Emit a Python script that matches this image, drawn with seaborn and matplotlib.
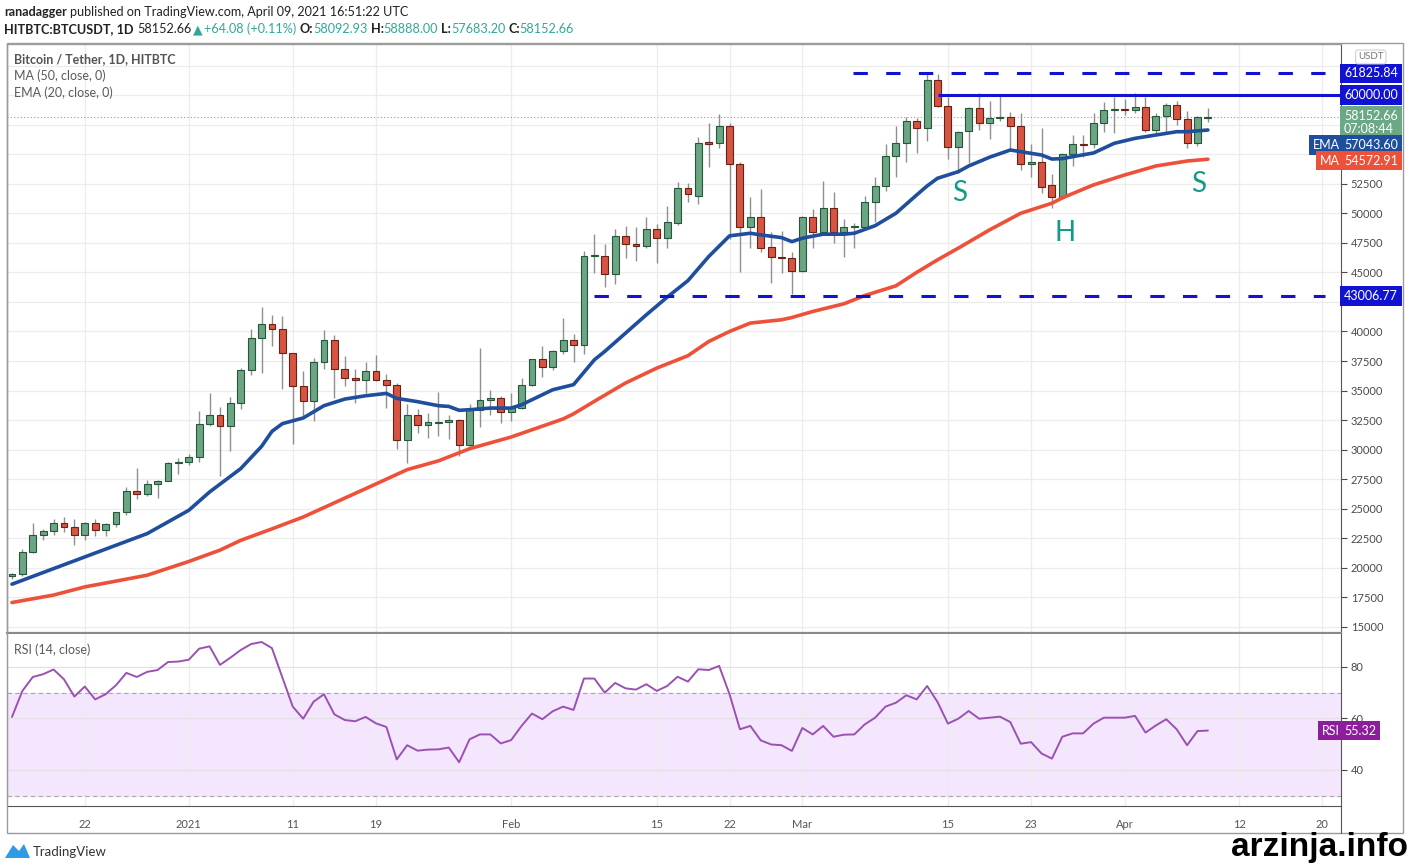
import numpy as np
import pandas as pd
import matplotlib
matplotlib.use("Agg")
import matplotlib.pyplot as plt
import seaborn as sns
from matplotlib.transforms import blended_transform_factory
from matplotlib.patches import Rectangle, Polygon
from matplotlib.lines import Line2D

# ---------------- data ----------------
start = pd.Timestamp("2020-12-15")
dates = pd.date_range(start, periods=116, freq="D")
days = np.arange(len(dates))

opens = [19270, 19440, 21370, 22820, 23120, 23830, 23480, 22740, 23820, 23230,
         23730, 24710, 26490, 26260, 27060, 27390, 28880, 28960, 29380, 32200,
         32960, 32000, 33960, 36780, 39430, 40620, 40240, 38220, 35410, 34110,
         37420, 39270, 36830, 36070, 35900, 36690, 35920, 35470, 30850, 32960,
         32120, 32280, 32370, 32480, 30400, 33380, 34230, 34370, 33150, 33520,
         35500, 37670, 36990, 38370, 39300, 38820, 46400, 46420, 44850, 48090,
         47380, 47240, 48650, 47940, 49160, 52120, 51490, 56000, 55920, 57400,
         54140, 48870, 49720, 47160, 46340, 46200, 45150, 49670, 48450, 50430,
         48400, 48830, 48870, 50980, 52340, 54870, 55920, 57800, 57210, 61270,
         59070, 55630, 56990, 58870, 57610, 58030, 58140, 57380, 54140, 54360,
         52370, 51350, 55050, 55840, 55840, 57660, 58730, 58740, 58730, 58960,
         57040, 58220, 59150, 57970, 55970, 58093]
highs = [19570, 21560, 23800, 23280, 24170, 24280, 24100, 23850, 24100, 23790,
         24760, 26870, 28420, 27470, 27420, 28990, 29300, 29620, 33300, 34790,
         33650, 34480, 36900, 40200, 42060, 41380, 41350, 38220, 36620, 37750,
         40150, 39700, 37950, 36850, 37400, 37980, 36400, 35600, 33830, 33450,
         33070, 34850, 32960, 32560, 33900, 38600, 35070, 34500, 34790, 36060,
         37700, 38730, 38400, 41130, 39800, 46840, 48250, 47410, 48700, 48950,
         48880, 49720, 49070, 50620, 52670, 52590, 56420, 57660, 58390, 57600,
         54300, 51400, 52050, 48450, 48530, 46760, 49800, 50340, 52760, 51830,
         49490, 49160, 51490, 53100, 55900, 57400, 58170, 58050, 61830, 61770,
         59860, 56950, 58950, 60140, 59520, 59910, 58590, 58450, 55860, 57180,
         53320, 55100, 56620, 56620, 58450, 59430, 59860, 59700, 60140, 59860,
         58450, 59300, 59520, 58670, 58200, 58888]
lows = [19050, 19300, 21230, 22350, 22770, 23070, 21900, 22350, 22700, 22700,
        23450, 24500, 25860, 26090, 25880, 27320, 27900, 28700, 28950, 32000,
        27750, 29900, 33420, 36320, 36500, 38740, 35110, 30500, 32880, 32400,
        36800, 34390, 35400, 33970, 34800, 35800, 33550, 30080, 28850, 31400,
        30990, 31130, 30900, 29500, 30020, 31930, 32960, 32260, 32390, 33450,
        35350, 36190, 36700, 38090, 37400, 38100, 44980, 43750, 44030, 46200,
        46000, 47050, 45780, 47050, 49010, 50980, 50760, 53940, 55490, 47800,
        45020, 47050, 46760, 44140, 44930, 43160, 45000, 47050, 48170, 47470,
        46340, 47050, 48700, 49300, 51900, 53050, 54300, 55070, 56140, 58950,
        54570, 53390, 54230, 57040, 56260, 57800, 55350, 53660, 53050, 51740,
        50480, 51200, 54000, 54790, 55500, 56900, 56820, 58300, 58450, 56900,
        56810, 56800, 57460, 55500, 55690, 57683]
closes = [19440, 21370, 22820, 23120, 23830, 23480, 22740, 23820, 23230, 23730,
          24710, 26490, 26260, 27060, 27390, 28880, 28960, 29380, 32200, 32960,
          32000, 33960, 36780, 39430, 40620, 40240, 38220, 35410, 34110, 37420,
          39270, 36830, 36070, 35900, 36690, 35920, 35470, 30850, 32960, 32120,
          32340, 32370, 32480, 30400, 33380, 34230, 34370, 33150, 33520, 35500,
          37670, 36990, 38370, 39300, 38820, 46400, 46420, 44850, 48090, 47380,
          47240, 48650, 47940, 49240, 52120, 51610, 55920, 55880, 57400, 54140,
          48870, 49720, 47100, 46340, 46200, 45150, 49670, 48450, 50430, 48400,
          48830, 48920, 50980, 52340, 54870, 55920, 57800, 57210, 61270, 59070,
          55630, 56900, 58870, 57610, 58080, 58140, 57380, 54140, 54360, 52250,
          51350, 55050, 55840, 55780, 57670, 58730, 58740, 58730, 58960, 57040,
          58220, 59150, 57970, 55970, 58110, 58153]

# EMA(20) and MA(50) read at these day indexes
ema_days = [0, 7, 13, 17, 19, 22, 24, 25, 26, 28, 30, 32, 34, 36, 37, 39, 41, 42, 43,
            44, 46, 48, 49, 52, 54, 56, 57, 59, 61, 63, 65, 67, 69, 71, 72, 74, 75,
            76, 78, 80, 81, 83, 85, 87, 88, 89, 90, 91, 92, 94, 96, 97, 99, 100,
            101, 102, 104, 106, 108, 110, 112, 113, 115]
ema_vals = [18620, 20925, 22900, 24870, 26420, 28400, 30280, 31550, 32200, 32680,
            33720, 34280, 34560, 34760, 34340, 34060, 33720, 33660, 33330, 33380,
            33520, 33520, 33800, 35070, 35500, 37600, 38310, 39860, 41410, 42900,
            44300, 46340, 48090, 48310, 48170, 47940, 47600, 47890, 48230, 48230,
            48310, 48950, 50000, 51550, 52310, 52960, 53240, 53520, 54000, 54740,
            55350, 55210, 54930, 54590, 54620, 54790, 55100, 55920, 56340, 56620,
            56900, 56900, 57044]
ma_days = [0, 4, 7, 10, 13, 17, 20, 22, 25, 28, 32, 35, 38, 41, 44, 48, 53, 54, 56,
           59, 62, 65, 67, 69, 71, 74, 75, 77, 80, 82, 85, 87, 89, 91, 94, 97, 100,
           101, 104, 107, 110, 113, 115]
ma_vals = [17070, 17700, 18390, 18880, 19380, 20540, 21500, 22330, 23300, 24300,
           25900, 27100, 28310, 29050, 30080, 31070, 32600, 33030, 34090, 35640,
           36900, 37950, 39150, 40000, 40710, 40990, 41180, 41690, 42340, 43040,
           43860, 45000, 46060, 47050, 48590, 50000, 50850, 51300, 52400, 53240,
           54000, 54420, 54573]

rsi_vals = [60.6, 70.7, 76.1, 77.2, 79.0, 75.2, 68.5, 72.4, 67.4, 69.4,
            72.9, 77.7, 76.1, 78.1, 78.8, 81.9, 82.1, 82.8, 87.1, 88.0,
            80.8, 83.6, 86.6, 88.9, 89.7, 87.3, 75.9, 64.6, 59.9, 66.5,
            69.4, 61.6, 59.4, 58.9, 60.6, 58.1, 56.7, 44.1, 49.6, 47.5,
            47.9, 48.0, 48.7, 43.0, 51.9, 53.8, 53.8, 50.3, 51.6, 57.1,
            61.9, 59.7, 62.8, 64.6, 63.3, 75.5, 75.5, 70.0, 73.8, 71.7,
            71.2, 73.3, 70.7, 72.6, 76.2, 74.3, 79.1, 78.8, 80.4, 69.4,
            55.8, 57.1, 51.5, 49.9, 49.6, 47.4, 56.3, 53.8, 57.1, 52.9,
            53.7, 53.8, 57.7, 60.3, 64.6, 66.1, 69.0, 67.4, 72.6, 66.4,
            58.0, 59.9, 62.9, 59.9, 60.3, 60.7, 58.6, 50.2, 50.8, 46.4,
            44.4, 52.9, 54.2, 54.2, 58.0, 60.3, 60.3, 60.3, 61.0, 54.5,
            57.3, 59.7, 55.8, 49.6, 55.1, 55.3]

tick_dates = ["2020-12-22", "2021-01-01", "2021-01-11", "2021-01-19", "2021-02-01",
              "2021-02-15", "2021-02-22", "2021-03-01", "2021-03-15", "2021-03-23",
              "2021-04-01", "2021-04-12", "2021-04-20"]
tick_labels = ["22", "2021", "11", "19", "Feb", "15", "22", "Mar", "15", "23",
               "Apr", "12", "20"]
price_labels = [15000, 17500, 20000, 22500, 25000, 27500, 30000, 32500, 35000,
                37500, 40000, 45000, 47500, 50000, 52500]
price_grid = list(range(15000, 65000, 2500))

level_top = 61825.84
level_mid = 60000.00
level_low = 43006.77
last_price = 58152.66
ema_last = 57043.60
ma_last = 54572.91
rsi_last = 55.32

# ---------------- figure ----------------
sns.set_style("white")
plt.rcParams['font.family'] = ['Lato', 'DejaVu Sans']

W, H = 1410, 865
fig = plt.figure(figsize=(W / 100, H / 100), dpi=100)


def fx(px):
    return px / W


def fy(py):
    return 1 - py / H


def py2price(py):
    # price scale of the upper pane: 60000 at y=95, 84.75 per pixel
    return 60000 - (py - 95) * 84.75


ax = fig.add_axes([fx(7), fy(633), fx(1341 - 7), (633 - 44) / H])
ax_rsi = fig.add_axes([fx(7), fy(806), fx(1341 - 7), (806 - 634) / H], sharex=ax)

tick_pos = [(pd.Timestamp(t) - start).days for t in tick_dates]
xmin, xmax = -0.48, 127.8

grid_c = "#ececec"
for t in tick_pos:
    ax.axvline(t, color=grid_c, lw=0.9, zorder=0)
    ax_rsi.axvline(t, color=grid_c, lw=0.9, zorder=1)
for v in price_grid:
    ax.axhline(v, color=grid_c, lw=0.9, zorder=0)

# candles
o = np.array(opens, float)
c = np.array(closes, float)
hi = np.array(highs, float)
lo = np.array(lows, float)
up = c >= o
ax.vlines(days, lo, hi, color="#8f8f8f", lw=1.0, zorder=2)
bottom = np.minimum(o, c)
height = np.maximum(np.abs(c - o), 80)
ax.bar(days[up], height[up], bottom=bottom[up], width=0.66, color="#6ba583",
       edgecolor="#25573b", linewidth=0.8, zorder=3)
ax.bar(days[~up], height[~up], bottom=bottom[~up], width=0.66, color="#d75442",
       edgecolor="#6b2015", linewidth=0.8, zorder=3)

# moving averages
sns.lineplot(x=ma_days, y=ma_vals, ax=ax, color="#ee5139", linewidth=2.6, zorder=4)
sns.lineplot(x=ema_days, y=ema_vals, ax=ax, color="#1f4e9d", linewidth=2.6, zorder=5)

# drawn levels
blue = "#1212d2"
ax.hlines(level_top, 80.9, 126.3, colors=blue, linestyles=(0, (4.7, 6.0)), lw=2.2, zorder=6)
ax.hlines(level_mid, 89.0, xmax, colors=blue, lw=2.2, zorder=6)
ax.hlines(level_low, 56.0, 126.3, colors=blue, linestyles=(0, (4.7, 6.0)), lw=2.2, zorder=6)
ax.axhline(last_price, color="#9a9a9a", ls=(0, (1, 2)), lw=0.8, zorder=1)

teal = "#159a87"
ax.text(91.1, 51700, "S", color=teal, fontsize=20, ha="center", va="center", zorder=7)
ax.text(101.3, 48300, "H", color=teal, fontsize=20, ha="center", va="center", zorder=7)
ax.text(114.1, 52500, "S", color=teal, fontsize=20, ha="center", va="center", zorder=7)

ax.set_xlim(xmin, xmax)
ax.set_ylim(14490, 64320)
ax.yaxis.tick_right()
ax.set_yticks(price_labels)
ax.set_yticklabels([str(v) for v in price_labels])
ax.tick_params(axis="y", labelsize=8, colors="#4a4a4a", length=4, direction="out", pad=3)
ax.tick_params(axis="x", bottom=False, labelbottom=False)
ax.set_xlabel("")
ax.set_ylabel("")
for s in ["left", "top"]:
    ax.spines[s].set_color("#a0a0a0")
    ax.spines[s].set_linewidth(1.0)
ax.spines["right"].set_color("#555555")
ax.spines["bottom"].set_color("#8a8a8a")
ax.spines["bottom"].set_linewidth(1.6)

# right axis tags
tr = blended_transform_factory(ax.transAxes, ax.transData)
dx = 3 / 1334
TAG_FS = 9.0


def tag(axis, trans, y, s, fc, side="right", fs=TAG_FS, color="white"):
    x = 1 + dx if side == "right" else 1 - 1 / 1334
    axis.text(x, y, s, transform=trans, ha="left" if side == "right" else "right",
              va="center", fontsize=fs, color=color, zorder=10,
              bbox=dict(boxstyle="square,pad=0.3", fc=fc, ec="none"))


tag(ax, tr, level_top, f"{level_top:.2f}", blue)
tag(ax, tr, level_mid, f"{level_mid:.2f}", blue)
ax.text(1 + dx, py2price(122.5), f"{last_price:.2f}\n07:08:44", transform=tr, ha="left",
        va="center", fontsize=TAG_FS, color="white", linespacing=1.15, zorder=10,
        bbox=dict(boxstyle="square,pad=0.3", fc="#6ba886", ec="none"))
# TradingView stacks the EMA / MA tags below the price tag
tag(ax, tr, py2price(145), f"{ema_last:.2f}", "#1f4e9d")
tag(ax, tr, py2price(145), "EMA", "#1f4e9d", side="left")
tag(ax, tr, py2price(160.5), f"{ma_last:.2f}", "#ee5139")
tag(ax, tr, py2price(160.5), "MA", "#ee5139", side="left")
tag(ax, tr, level_low, f"{level_low:.2f}", blue)
ax.text(1 + 17 / 1334, py2price(57), "USDT", transform=tr, ha="left", va="center",
        fontsize=7, color="#777777", zorder=10,
        bbox=dict(boxstyle="round,pad=0.25", fc="white", ec="#d0d0d0", lw=0.8))

# ---------------- RSI pane ----------------
ax_rsi.axhspan(30, 70, color="#f4e6fd", zorder=0)
for v in [40, 60, 80]:
    ax_rsi.axhline(v, color="#e4e0e8", lw=0.9, zorder=1)
for v in [30, 70]:
    ax_rsi.axhline(v, color="#a8a8a8", ls=(0, (4, 3)), lw=0.8, zorder=2)
sns.lineplot(x=days, y=rsi_vals, ax=ax_rsi, color="#9b51b3", linewidth=1.4, zorder=4)
ax_rsi.set_ylim(26.0, 92.8)
ax_rsi.set_xlim(xmin, xmax)
ax_rsi.yaxis.tick_right()
ax_rsi.set_yticks([40, 60, 80])
ax_rsi.tick_params(axis="y", labelsize=8, colors="#4a4a4a", length=4, direction="out", pad=3)
ax_rsi.set_xticks(tick_pos)
ax_rsi.set_xticklabels(tick_labels)
ax_rsi.tick_params(axis="x", labelsize=8, colors="#555555", length=4, direction="out", pad=5)
ax_rsi.set_xlabel("")
ax_rsi.set_ylabel("")
ax_rsi.spines["left"].set_color("#a0a0a0")
ax_rsi.spines["top"].set_visible(False)
ax_rsi.spines["right"].set_color("#555555")
ax_rsi.spines["bottom"].set_color("#555555")
tr2 = blended_transform_factory(ax_rsi.transAxes, ax_rsi.transData)
tag(ax_rsi, tr2, rsi_last, f"{rsi_last:.2f}", "#8e1d9e")
tag(ax_rsi, tr2, rsi_last, "RSI", "#8e1d9e", side="left")

# frame and axis extension
fig.patches.append(Rectangle((fx(7), fy(833)), fx(1403 - 7), (833 - 43) / H, fill=False,
                             ec="#9a9a9a", lw=1.0, transform=fig.transFigure))
fig.lines.append(Line2D([fx(1341), fx(1341)], [fy(806), fy(833)], color="#555555",
                        lw=0.8, transform=fig.transFigure))

# pane titles
fig.text(fx(14), fy(59), "Bitcoin / Tether, 1D, HITBTC", fontsize=9, color="#555555",
         fontweight="bold", va="center")
fig.text(fx(14), fy(76), "MA (50, close, 0)", fontsize=9, color="#5a5a5a", va="center")
fig.text(fx(14), fy(93), "EMA (20, close, 0)", fontsize=9, color="#5a5a5a", va="center")
fig.text(fx(14), fy(650), "RSI (14, close)", fontsize=9, color="#5a5a5a", va="center")

# header
renderer = fig.canvas.get_renderer()


def seq(x_px, y_px, parts, fs):
    x = x_px
    for s, col, wt, gap in parts:
        t = fig.text(fx(x), fy(y_px), s, fontsize=fs, color=col, fontweight=wt,
                     va="center", ha="left")
        bb = t.get_window_extent(renderer=renderer)
        x = bb.x1 + gap


dark = "#222222"
val = "#2fa89a"
seq(4, 12, [("ranadagger", dark, "bold", 3),
            ("published on TradingView.com, April 09, 2021 16:51:22 UTC", dark, "normal", 0)], 9.1)
seq(4, 29, [("HITBTC:BTCUSDT, 1D", dark, "bold", 4),
            (f"{last_price:.2f}", dark, "normal", 1.5),
            ("▲", val, "normal", 1.5),
            ("+64.08 (+0.11%)", val, "normal", 3),
            ("O:", dark, "bold", 0), ("58092.93", val, "normal", 3),
            ("H:", dark, "bold", 0), ("58888.00", val, "normal", 3),
            ("L:", dark, "bold", 0), ("57683.20", val, "normal", 3),
            ("C:", dark, "bold", 0), (f"{last_price:.2f}", val, "normal", 0)], 9.1)

# footer: TradingView logo and watermark
fig.patches.append(Polygon([[fx(5), fy(858)], [fx(13), fy(845)], [fx(19), fy(851)],
                            [fx(24), fy(844)], [fx(30), fy(858)]], closed=True,
                           fc="#2e9be6", ec="none", transform=fig.transFigure))
fig.text(fx(33), fy(852), "TradingView", fontsize=9.5, color="#333333", va="center")
fig.text(fx(1408), fy(856), "arzinja.info", fontsize=24, fontweight="bold", color="black",
         ha="right", va="baseline",
         family=["Liberation Sans Narrow", "Liberation Sans", "DejaVu Sans"])

fig.savefig("out.png", dpi=100)
